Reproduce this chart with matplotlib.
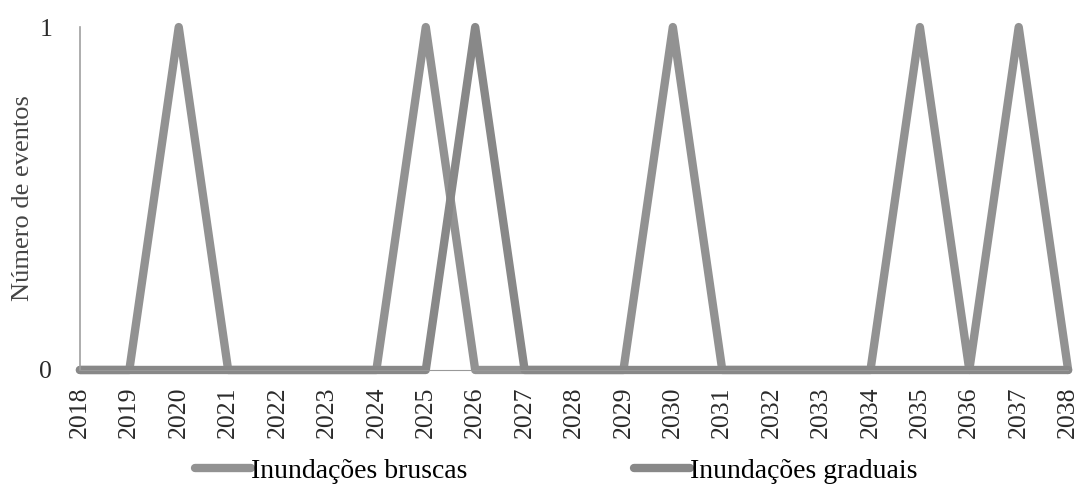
import numpy as np
import matplotlib.pyplot as plt

# === Data ===
years = list(range(2018, 2039))
bruscas = [0, 0, 1, 0, 0, 0, 0, 1, 0, 0, 0, 0, 1, 0, 0, 0, 0, 1, 0, 1, 0]
graduais = [0, 0, 0, 0, 0, 0, 0, 0, 1, 0, 0, 0, 0, 0, 0, 0, 0, 0, 0, 0, 0]

plt.rcParams['font.family'] = ['Liberation Serif', 'DejaVu Serif']

fig = plt.figure(figsize=(10.8, 4.92), dpi=100)
ax = fig.add_axes([0.074, 0.248, 0.915, 0.697])

ax.plot(years, bruscas, color='#929292', lw=6.0, solid_joinstyle='round',
        solid_capstyle='round', clip_on=False, label='Inundações bruscas')
ax.plot(years, graduais, color='#888888', lw=6.0, solid_joinstyle='round',
        solid_capstyle='round', clip_on=False, label='Inundações graduais')

ax.set_xlim(2018, 2038)
ax.set_ylim(0, 1)
ax.set_xticks(years)
ax.set_xticklabels([str(y) for y in years], rotation=90, fontsize=18.5)
ax.set_yticks([0, 1])
ax.set_yticklabels(['0', '1'], fontsize=18.5)
ax.tick_params(axis='both', length=0, colors='#2a2a2a')
ax.tick_params(axis='y', pad=20)
ax.tick_params(axis='x', pad=12)
ax.set_ylabel('Número de eventos', fontsize=19, color='#444444', labelpad=4)

for s in ['top', 'right']:
    ax.spines[s].set_visible(False)
ax.spines['left'].set_color('#a0a0a0')
ax.spines['left'].set_linewidth(1.2)
ax.spines['bottom'].set_color('#999999')

fig.legend(loc='lower center', bbox_to_anchor=(0.515, -0.035), ncol=2,
           frameon=False, fontsize=20, handlelength=2.0, handletextpad=0.0,
           columnspacing=6.0)

fig.savefig('out.png', dpi=100)
